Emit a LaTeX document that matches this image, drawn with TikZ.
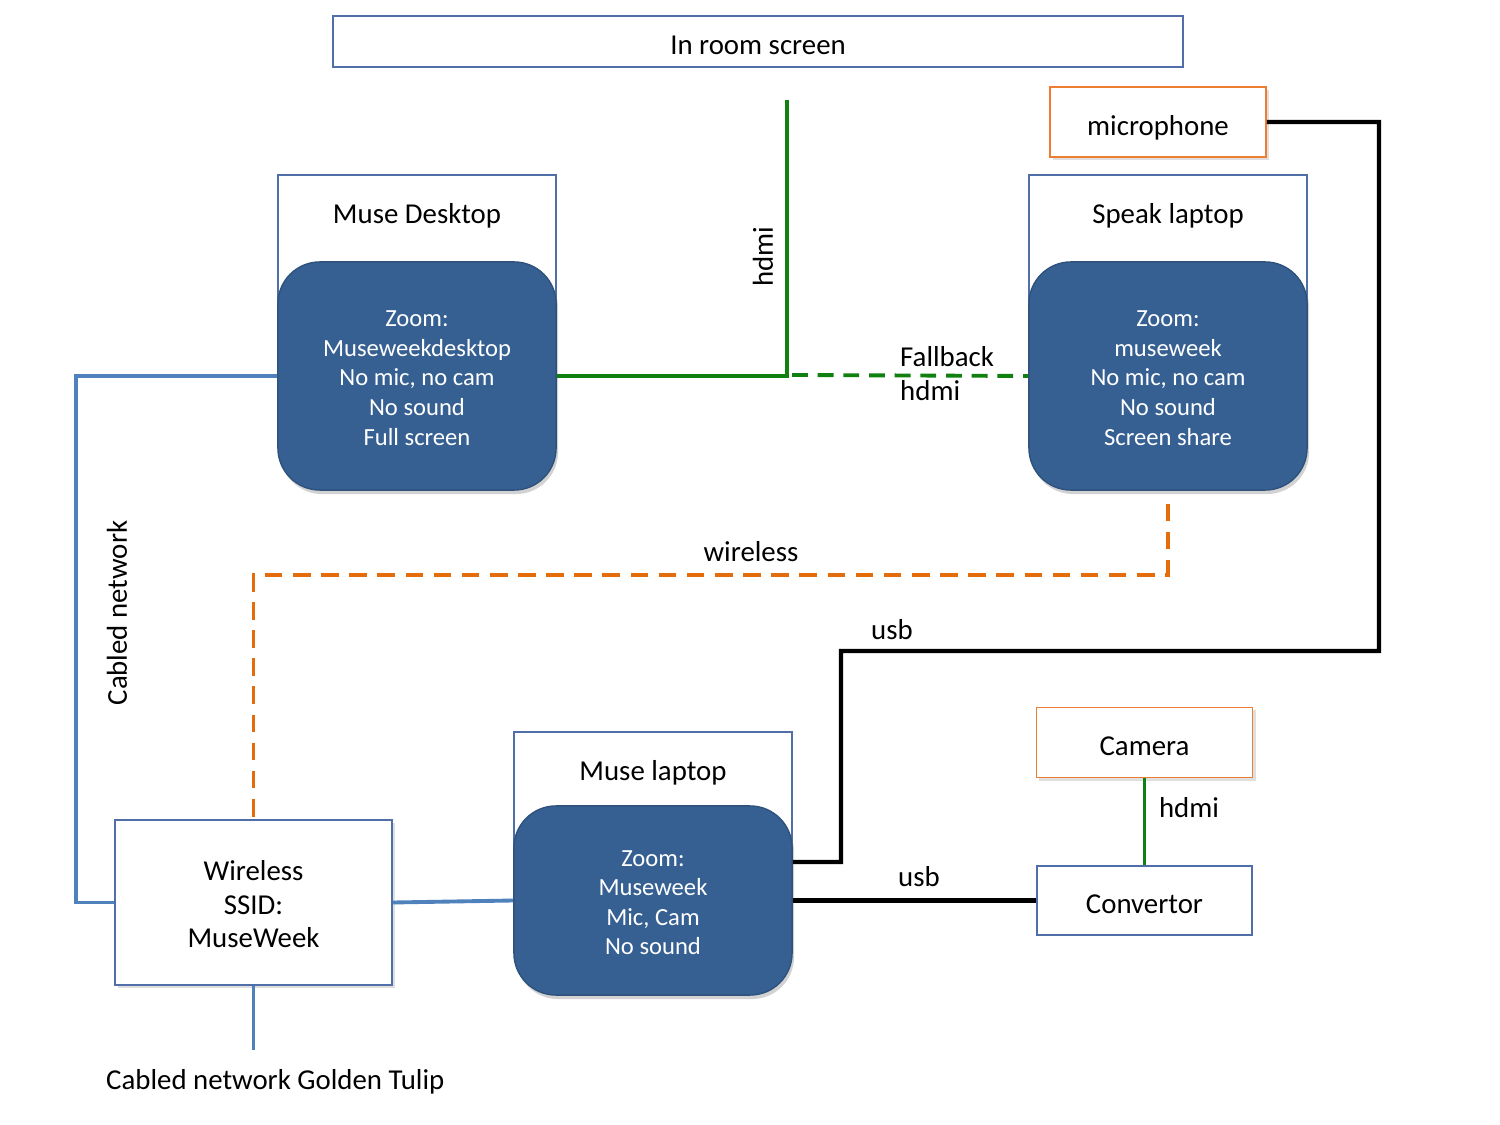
\documentclass[tikz,border=0pt]{standalone}
\usepackage{fontspec}
\setmainfont{Carlito}
\usetikzlibrary{shadows}
\definecolor{zoomblue}{RGB}{54,96,146}
\definecolor{frameblue}{RGB}{80,110,168}
\definecolor{cableblue}{RGB}{79,129,189}
\definecolor{wifiorange}{RGB}{228,108,10}
\definecolor{boxorange}{RGB}{237,125,49}
\definecolor{hdmigreen}{RGB}{16,128,16}
\newcommand{\topstrut}[1]{\rule{0pt}{#1}}
\tikzset{
  frame/.style={draw=frameblue, line width=0.5pt, fill=white, inner sep=0pt},
  oneline/.style={text height=7.4pt, text depth=0pt},
  zoombox/.style={draw=zoomblue!85!black, line width=0.4pt, fill=zoomblue, text=white,
    rounded corners=0.42cm, minimum width=2.78cm, align=center,
    font=\fontsize{7}{8.4}\selectfont,
    drop shadow={opacity=0.35, shadow xshift=0.02cm, shadow yshift=-0.04cm}},
  device/.style={draw=boxorange, line width=0.5pt, fill=white, minimum width=2.16cm, minimum height=0.7cm,
    oneline, drop shadow={opacity=0.25, shadow xshift=0.03cm, shadow yshift=-0.03cm}},
  cable/.style={draw=cableblue, line width=1.1pt},
  hdmiline/.style={draw=hdmigreen, line width=1.1pt},
  usbline/.style={draw=black, line width=1.15pt},
  wifiline/.style={draw=wifiorange, line width=1.1pt, dash pattern=on 5pt off 3pt},
  lbl/.style={inner sep=1pt}
}
\begin{document}
\begin{tikzpicture}[x=0.01cm,y=-0.01cm,font=\fontsize{8.2}{9.6}\selectfont]
    \useasboundingbox[fill=white] (0,0) rectangle (1500,1125);

    \node[frame, oneline, minimum width=8.5cm, minimum height=0.51cm] (screen) at (758,41.5) {In room screen};

    \node[frame, minimum width=2.78cm, minimum height=2.0cm] (desk) at (417,275) {};
    \node[lbl] (desktitle) at (417,216) {Muse Desktop};
    \node[zoombox, minimum height=2.28cm] (deskz) at (417,376)
        {\topstrut{5.7pt}Zoom:\\Museweekdesktop\\No mic, no cam\\No sound\\Full screen};

    \node[frame, minimum width=2.78cm, minimum height=2.0cm] (speak) at (1168,275) {};
    \node[lbl] (speaktitle) at (1168,216) {Speak laptop};
    \node[zoombox, minimum height=2.28cm] (speakz) at (1168,376)
        {\topstrut{5.7pt}Zoom:\\museweek\\No mic, no cam\\No sound\\Screen share};

    \node[frame, minimum width=2.78cm, minimum height=1.7cm] (lap) at (653,817) {};
    \node[lbl] (laptitle) at (653,773) {Muse laptop};
    \node[zoombox, minimum height=1.89cm] (lapz) at (653,900.5)
        {\topstrut{5.7pt}Zoom:\\Museweek\\Mic, Cam\\No sound};

    \node[device] (mic) at (1158,122) {microphone};
    \node[device] (cam) at (1144.5,742.5) {Camera};
    \node[frame, oneline, minimum width=2.15cm, minimum height=0.69cm] (conv) at (1144.5,900.5) {Convertor};

    \node[frame, minimum width=2.77cm, minimum height=1.65cm, align=center,
        drop shadow={opacity=0.25, shadow xshift=0.03cm, shadow yshift=-0.03cm}] (wifi) at (253.5,902.5)
        {\topstrut{6.7pt}Wireless\\SSID:\\MuseWeek};

    % cables
    \coordinate (hdmitop) at (787,100);
    \coordinate (hdmijoin) at (792,375);
    \coordinate (tulip) at (253.5,1050);
    \draw[cable] (deskz.west) -- ++(-201,0) |- (wifi.west);
    \draw[cable] (wifi.east) -- (lapz.west);
    \draw[cable] (wifi.south) -- (tulip);
    \draw[hdmiline] (deskz.east) -| (hdmitop);
    \draw[hdmiline, dash pattern=on 4.5pt off 2.8pt] (hdmijoin) -- (speakz.west);
    \draw[wifiline] ([yshift=-0.13cm]speakz.south) -- ++(0,71) -| (wifi.north);
    \draw[usbline] (mic.east) -| (1379,651) -| (841,862) -- ([yshift=0.385cm]lapz.east);
    \draw[usbline] (lapz.east) -- (conv.west);
    \draw[hdmiline] (cam.south) -- (conv.north);

    \node[lbl, rotate=90] (hdmiv) at (763,257) {hdmi};
    \node[lbl, anchor=west] (fallback) at (896,357) {Fallback};
    \node[lbl, anchor=west] (fallhdmi) at (896,391) {hdmi};
    \node[lbl] (wirelesslbl) at (751,552) {wireless};
    \node[lbl] (usbtop) at (892,630) {usb};
    \node[lbl] (usbconv) at (919,877) {usb};
    \node[lbl] (camhdmi) at (1189,808) {hdmi};
    \node[lbl, rotate=90] (cabled) at (117,613) {Cabled network};
    \node[lbl, anchor=west] (tuliplbl) at (102,1082) {Cabled network Golden Tulip};
\end{tikzpicture}
\end{document}
